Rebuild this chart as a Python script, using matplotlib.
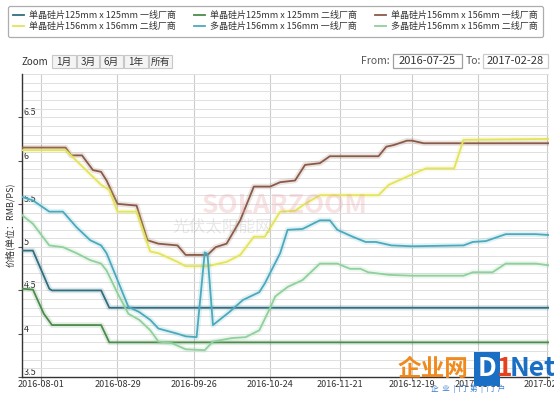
import numpy as np
import matplotlib
matplotlib.use('Agg')
import matplotlib.pyplot as plt
import matplotlib.dates as mdates
import matplotlib.patheffects as pe
from matplotlib.patches import Rectangle
from matplotlib.lines import Line2D
from matplotlib.ticker import NullLocator, FixedLocator

plt.rcParams['font.family'] = ['Noto Sans CJK SC', 'DejaVu Sans']

# ---------------- data ----------------
series_names = [
    '单晶硅片125mm x 125mm 一线厂商',
    '单晶硅片125mm x 125mm 二线厂商',
    '单晶硅片156mm x 156mm 一线厂商',
    '单晶硅片156mm x 156mm 二线厂商',
    '多晶硅片156mm x 156mm 一线厂商',
    '多晶硅片156mm x 156mm 二线厂商',
]
series_colors = ['#2f6f80', '#4b8b4b', '#8a5a48', '#e2e45a', '#4aaabd', '#8fd09c']

mono125_t1_dates = ['2016-07-25', '2016-07-29', '2016-08-04', '2016-08-05', '2016-08-23', '2016-08-26', '2017-02-28']
mono125_t1 = [4.96, 4.96, 4.52, 4.50, 4.50, 4.30, 4.30]

mono125_t2_dates = ['2016-07-25', '2016-07-29', '2016-08-02', '2016-08-05', '2016-08-23', '2016-08-26', '2017-02-28']
mono125_t2 = [4.52, 4.51, 4.23, 4.10, 4.10, 3.90, 3.90]

mono156_t1_dates = ['2016-07-25', '2016-08-10', '2016-08-12', '2016-08-16', '2016-08-20', '2016-08-23',
                    '2016-08-25', '2016-08-29', '2016-09-05', '2016-09-09', '2016-09-13', '2016-09-20',
                    '2016-09-23', '2016-10-01', '2016-10-04', '2016-10-08', '2016-10-13', '2016-10-18',
                    '2016-10-24', '2016-10-28', '2016-11-03', '2016-11-07', '2016-11-13', '2016-11-17',
                    '2016-12-06', '2016-12-09', '2016-12-12', '2016-12-17', '2016-12-19', '2016-12-24',
                    '2017-02-28']
mono156_t1 = [6.15, 6.15, 6.06, 6.06, 5.89, 5.87,
              5.77, 5.50, 5.48, 5.08, 5.04, 5.02,
              4.91, 4.91, 5.00, 5.04, 5.31, 5.70,
              5.70, 5.75, 5.77, 5.95, 5.97, 6.05,
              6.05, 6.16, 6.18, 6.23, 6.23, 6.20,
              6.20]

mono156_t2_dates = ['2016-07-25', '2016-08-10', '2016-08-23', '2016-08-26', '2016-08-29', '2016-09-05',
                    '2016-09-10', '2016-09-13', '2016-09-20', '2016-09-23', '2016-10-01', '2016-10-08',
                    '2016-10-13', '2016-10-18', '2016-10-22', '2016-10-28', '2016-11-03', '2016-11-07',
                    '2016-11-13', '2016-12-06', '2016-12-10', '2016-12-19', '2016-12-25', '2017-01-06',
                    '2017-01-10', '2017-02-28']
mono156_t2 = [6.12, 6.12, 5.72, 5.66, 5.41, 5.41,
              4.95, 4.93, 4.83, 4.78, 4.78, 4.83,
              4.91, 5.12, 5.12, 5.41, 5.42, 5.50,
              5.60, 5.60, 5.72, 5.84, 5.91, 5.91,
              6.24, 6.25]

multi156_t1_dates = ['2016-07-25', '2016-07-29', '2016-08-04', '2016-08-09', '2016-08-14', '2016-08-19',
                     '2016-08-23', '2016-08-25', '2016-08-29', '2016-09-02', '2016-09-06', '2016-09-10',
                     '2016-09-13', '2016-09-20', '2016-09-23', '2016-09-27', '2016-09-30', '2016-10-01',
                     '2016-10-03', '2016-10-09', '2016-10-14', '2016-10-20', '2016-10-22', '2016-10-28',
                     '2016-10-31', '2016-11-06', '2016-11-13', '2016-11-17', '2016-11-20', '2016-11-26',
                     '2016-12-01', '2016-12-05', '2016-12-11', '2016-12-19', '2017-01-10', '2017-01-14',
                     '2017-01-21', '2017-02-02', '2017-02-20', '2017-02-28']
multi156_t1 = [5.58, 5.54, 5.41, 5.41, 5.23, 5.08,
               5.02, 4.93, 4.62, 4.31, 4.25, 4.16,
               4.06, 4.00, 3.97, 3.96, 4.94, 4.92,
               4.10, 4.25, 4.39, 4.48, 4.58, 4.93,
               5.20, 5.21, 5.31, 5.31, 5.20, 5.12,
               5.06, 5.06, 5.02, 5.01, 5.02, 5.06,
               5.07, 5.15, 5.15, 5.14]

multi156_t2_dates = ['2016-07-25', '2016-07-29', '2016-08-04', '2016-08-09', '2016-08-14', '2016-08-19',
                     '2016-08-23', '2016-08-25', '2016-08-29', '2016-09-02', '2016-09-06', '2016-09-10',
                     '2016-09-13', '2016-09-18', '2016-09-23', '2016-09-30', '2016-10-03', '2016-10-10',
                     '2016-10-15', '2016-10-20', '2016-10-24', '2016-10-26', '2016-10-31', '2016-11-06',
                     '2016-11-13', '2016-11-20', '2016-11-25', '2016-11-29', '2016-12-02', '2016-12-10',
                     '2016-12-19', '2017-01-10', '2017-01-14', '2017-01-25', '2017-02-02', '2017-02-20',
                     '2017-02-28']
multi156_t2 = [5.37, 5.27, 5.02, 5.00, 4.93, 4.85,
               4.81, 4.73, 4.47, 4.23, 4.16, 4.04,
               3.91, 3.89, 3.82, 3.81, 3.91, 3.95,
               3.96, 4.04, 4.30, 4.43, 4.54, 4.62,
               4.81, 4.81, 4.75, 4.75, 4.71, 4.68,
               4.67, 4.67, 4.71, 4.71, 4.81, 4.81,
               4.79]

tick_dates = ['2016-08-01', '2016-08-29', '2016-09-26', '2016-10-24',
              '2016-11-21', '2016-12-19', '2017-01-16', '2017-02-27']
range_from, range_to = '2016-07-25', '2017-02-28'
zoom_buttons = ['1月', '3月', '6月', '1年', '所有']
y_label = '价格(单位：RMB/PS)'

# ordinal (gap-compressed) time axis as used by the stock chart
ordinal_anchor_dates = ['2016-07-25', '2016-08-01', '2016-08-29', '2016-09-26', '2016-10-24',
                        '2016-11-21', '2016-12-19', '2017-01-16', '2017-02-27', '2017-02-28']
ordinal_anchor_pos = [0, 7, 35, 63, 91, 116.5, 143, 167, 192.6, 193.2]

# ---------------- figure ----------------
W, H = 554, 393
fig = plt.figure(figsize=(W / 100, H / 100), dpi=100)
fig.patch.set_facecolor('white')


def fx(px):
    return px / W


def fy(py):
    return 1 - py / H


ax = fig.add_axes([fx(22), fy(377), fx(549) - fx(22), fy(74) - fy(377)])

an = mdates.datestr2num(ordinal_anchor_dates)
ap = np.array(ordinal_anchor_pos, float)
an_ext = np.concatenate([[an[0] - 5000], an, [an[-1] + 5000]])
ap_ext = np.concatenate([[ap[0] - 5000], ap, [ap[-1] + 5000]])


def fwd(x):
    return np.interp(x, an_ext, ap_ext)


def inv(y):
    return np.interp(y, ap_ext, an_ext)


ax.set_xscale('function', functions=(fwd, inv))

all_dates = [mono125_t1_dates, mono125_t2_dates, mono156_t1_dates,
             mono156_t2_dates, multi156_t1_dates, multi156_t2_dates]
all_vals = [mono125_t1, mono125_t2, mono156_t1, mono156_t2, multi156_t1, multi156_t2]

handles = []
for i, (d, v) in enumerate(zip(all_dates, all_vals)):
    c = series_colors[i]
    ax.plot(mdates.datestr2num(d), v, color=c, lw=1.3, zorder=3 + i,
            solid_joinstyle='round',
            path_effects=[pe.Stroke(linewidth=4.0, foreground=c, alpha=0.16), pe.Normal()])
    handles.append(Line2D([], [], color=c, lw=1.3))

ax.set_xlim(mdates.datestr2num(range_from), mdates.datestr2num(range_to))
ax.set_ylim(3.5, 7.0)

ax.xaxis.set_major_locator(FixedLocator(mdates.datestr2num(tick_dates)))
ax.set_xticklabels(tick_dates)
ax.xaxis.set_minor_locator(NullLocator())

yt = [3.5, 4.0, 4.5, 5.0, 5.5, 6.0, 6.5]
ax.set_yticks(yt)
ax.set_yticklabels(['3.5', '4', '4.5', '5', '5.5', '6', '6.5'])
ax.set_yticks(np.round(np.arange(3.5, 7.001, 0.1), 2), minor=True)

ax.grid(True, axis='x', which='major', color='#cccccc', lw=0.8, zorder=0)
ax.grid(True, axis='y', which='both', color='#e0e0e0', lw=0.7, zorder=0)
ax.set_axisbelow(True)

for s in ['top', 'right']:
    ax.spines[s].set_visible(False)
ax.spines['left'].set_color('#333333')
ax.spines['left'].set_linewidth(1.0)
ax.spines['bottom'].set_color('#333333')
ax.spines['bottom'].set_linewidth(1.0)

ax.tick_params(axis='x', which='major', length=3, width=0.8, color='#888888',
               labelsize=6.5, labelcolor='#333333', pad=-1)
ax.tick_params(axis='y', which='major', length=3, width=0.8, color='#555555',
               labelsize=6.5, labelcolor='#333333', pad=-4)
ax.tick_params(axis='y', which='minor', length=0)
for lbl in ax.get_yticklabels():
    lbl.set_horizontalalignment('left')
    lbl.set_verticalalignment('bottom')

fig.text(fx(10), fy(225), y_label, rotation=90, fontsize=6.5, color='#333333',
         ha='center', va='center')

# watermark of the source
fig.text(fx(285), fy(205), 'SOLARZOOM', fontsize=19, fontweight='bold', color='#e9a3a8',
         alpha=0.3, ha='center', va='center', zorder=1)
fig.text(fx(222), fy(227), '光伏太阳能网', fontsize=12, color='#9a9a9a', alpha=0.22,
         ha='center', va='center', zorder=1)

# legend
order = [0, 3, 1, 4, 2, 5]
leg = fig.legend([handles[k] for k in order], [series_names[k] for k in order],
                 ncol=3, loc='upper left', mode='expand',
                 bbox_to_anchor=(fx(8), fy(36), fx(543) - fx(8), fy(6) - fy(36)),
                 fontsize=6.5, handlelength=1.2, handletextpad=0.55, borderpad=0.6,
                 labelspacing=0.2, columnspacing=0.8, frameon=True, fancybox=True,
                 borderaxespad=0)
leg.get_frame().set_edgecolor('#999999')
leg.get_frame().set_linewidth(0.9)
for t in leg.get_texts():
    t.set_color('#333333')

# range selector
fig.text(fx(21), fy(62), 'Zoom', fontsize=7, color='#333333', ha='left', va='center')
btn_x = [(52, 76), (77, 99), (100, 123), (124, 148), (149, 172)]
for (x0, x1), lab in zip(btn_x, zoom_buttons):
    fig.add_artist(Rectangle((fx(x0), fy(68)), fx(x1) - fx(x0), fy(55) - fy(68),
                             transform=fig.transFigure, facecolor='#f4f4f4',
                             edgecolor='#c8c8c8', lw=0.8))
    fig.text(fx((x0 + x1) / 2), fy(61.5), lab, fontsize=7, color='#333333',
             ha='center', va='center')

fig.text(fx(390), fy(61), 'From:', fontsize=7.5, color='#555555', ha='right', va='center')
fig.add_artist(Rectangle((fx(393), fy(68)), fx(462) - fx(393), fy(54) - fy(68),
                         transform=fig.transFigure, facecolor='white', edgecolor='#a0a0a0', lw=0.9))
fig.text(fx(427.5), fy(61), range_from, fontsize=8, color='#333333', ha='center', va='center')
fig.text(fx(466), fy(61), 'To:', fontsize=7.5, color='#555555', ha='left', va='center')
fig.add_artist(Rectangle((fx(483), fy(68)), fx(548) - fx(483), fy(54) - fy(68),
                         transform=fig.transFigure, facecolor='white', edgecolor='#cccccc', lw=0.9))
fig.text(fx(515.5), fy(61), range_to, fontsize=8, color='#333333', ha='center', va='center')

# reprint site mark (bottom right)
fig.text(fx(433), fy(369), '企业网', fontsize=17, fontweight='bold', color='#f08a1c',
         ha='center', va='center', zorder=10)
fig.add_artist(Rectangle((fx(474), fy(386)), fx(500) - fx(474), fy(352) - fy(386),
                         transform=fig.transFigure, facecolor='#1a6fc4', edgecolor='none', zorder=10))
fig.text(fx(487), fy(369), 'D', fontsize=19, fontweight='bold', color='white',
         ha='center', va='center', zorder=11)
fig.text(fx(505), fy(369), '1', fontsize=19, fontweight='bold', color='#e8401c',
         ha='center', va='center', zorder=11)
fig.text(fx(533), fy(369), 'Net', fontsize=19, fontweight='bold', color='#1a6fc4',
         ha='center', va='center', zorder=11)
fig.text(fx(468), fy(389), '企  业  |  门  第  |  门  户', fontsize=5.5, color='#3a7fd0',
         ha='center', va='center', zorder=11)

fig.savefig('out.png', dpi=100, facecolor='white')
